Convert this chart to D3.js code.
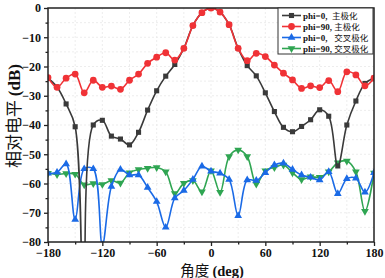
<!DOCTYPE html>
<html><head><meta charset="utf-8">
<script src="https://cdn.jsdelivr.net/npm/d3@7"></script>
<style>body{margin:0;background:#fff}svg{display:block}</style>
</head><body><svg id="c" width="385" height="278"></svg>
<script>
const angles = [-180,-170,-160,-150,-140,-130,-120,-110,-100,-90,-80,-70,-60,-50,-40,-30,-20,-10,0,10,20,30,40,50,60,70,80,90,100,110,120,130,140,150,160,170,180];
const phi0Co = [-24,-27,-32.8,-40.6,-130,-40,-38.4,-43.8,-44.8,-46.8,-42.5,-34.9,-28.3,-23.3,-19.3,-13.8,-6,-1.6,0,-1.4,-5.7,-13.8,-19.7,-23.2,-29,-35.4,-40.8,-42.3,-40.5,-38.2,-34.8,-37,-54,-40,-31.8,-25.8,-24];
const phi90Co = [-23.8,-27.1,-24,-22.6,-29,-24.7,-27.1,-26.7,-27.8,-24.7,-22.6,-18.9,-16.8,-15.3,-17.8,-13.8,-6,-1.6,0,-1.4,-5.7,-13.8,-18,-15.5,-16.6,-19.5,-22.3,-24.6,-27.5,-26.6,-27.2,-24.8,-28.6,-21.8,-22.9,-26.6,-24];
const phi0Cx = [-56.5,-56.2,-53.3,-72.3,-55,-55,-81,-61,-55.2,-57.1,-57.1,-61.4,-66.2,-75,-65,-62.4,-58.6,-54.1,-55.8,-56.5,-58.6,-71,-58.8,-59,-56.3,-53.7,-53.1,-55.2,-57.1,-57.9,-58.8,-56,-63.5,-58.4,-58.2,-63,-56.3];
const phi90Cx = [-56.5,-56.9,-56.6,-56.8,-60.4,-60,-60.3,-59,-59.8,-56.3,-55.2,-54.8,-54.5,-56,-63.4,-59.9,-59,-62.8,-55.6,-63,-50.8,-48.5,-50.8,-60.2,-55.6,-54.5,-53.7,-56.3,-58.6,-57.7,-57.9,-56,-52.9,-52.3,-56,-69.5,-56.4];
const xTicks = [-180,-120,-60,0,60,120,180];
const yTicks = [0,-10,-20,-30,-40,-50,-60,-70,-80];
const seriesLatin = ["phi=0,  ","phi=90, ","phi=0,   ","phi=90, "];
const seriesCjk = ["主极化","主极化","交叉极化","交叉极化"];
const colors = ["#3a3a3a","#f03236","#1a6ae6","#2fa552"];
const symbols = [d3.symbolSquare, d3.symbolCircle, d3.symbolTriangle, d3.symbolTriangle];
const symSizes = [26, 36, 26, 26];
const rotations = [0,0,0,180];
const allSeries = [phi0Co, phi90Co, phi0Cx, phi90Cx];

const svg = d3.select("#c");
const L=48, R=374, T=8, B=242;
const x = d3.scaleLinear().domain([-180,180]).range([L,R]);
const y = d3.scaleLinear().domain([-80,0]).range([B,T]);
const serif = "'Liberation Serif','Times New Roman',serif";

// grid
const g = svg.append("g");
g.selectAll("line.gx").data(d3.range(-150,180,30)).join("line")
  .attr("x1",d=>x(d)).attr("x2",d=>x(d)).attr("y1",T).attr("y2",B)
  .attr("stroke","#e8e8e8").attr("stroke-width",0.8).attr("stroke-dasharray","2,2");
g.selectAll("line.gy").data(d3.range(-75,0,5)).join("line")
  .attr("y1",d=>y(d)).attr("y2",d=>y(d)).attr("x1",L).attr("x2",R)
  .attr("stroke","#e8e8e8").attr("stroke-width",0.8).attr("stroke-dasharray","2,2");

svg.append("defs").append("clipPath").attr("id","clip")
  .append("rect").attr("x",L).attr("y",T).attr("width",R-L).attr("height",B-T);

const line = d3.line().x((d,i)=>x(angles[i])).y(d=>y(d)).curve(d3.curveCatmullRom.alpha(0.5));
const plot = svg.append("g").attr("clip-path","url(#clip)");
const order = [3,2,0,1];
order.forEach(k=>{
  const s = allSeries[k];
  plot.append("path").attr("d",line(s)).attr("fill","none").attr("stroke",colors[k]).attr("stroke-width",1.6);
  plot.selectAll(null).data(s).join("path")
    .attr("d",d3.symbol().type(symbols[k]).size(symSizes[k]))
    .attr("transform",(d,i)=>`translate(${x(angles[i])},${y(d)}) rotate(${rotations[k]})`)
    .attr("fill",colors[k]);
});

// axes
svg.append("g").attr("transform",`translate(0,${B})`)
  .call(d3.axisBottom(x).tickValues(xTicks).tickSize(4).tickPadding(2).tickFormat(d3.format("d")));
svg.append("g").attr("transform",`translate(0,${B})`)
  .call(d3.axisBottom(x).tickValues(d3.range(-150,180,60)).tickSize(2.5).tickFormat(""));
svg.append("g").attr("transform",`translate(${L},0)`)
  .call(d3.axisLeft(y).tickValues(yTicks).tickSize(4).tickPadding(3).tickFormat(d3.format("d")));
svg.append("g").attr("transform",`translate(${L},0)`)
  .call(d3.axisLeft(y).tickValues(d3.range(-75,0,10)).tickSize(2.5).tickFormat(""));
svg.selectAll(".domain").remove();
svg.selectAll(".tick line").attr("stroke","#222").attr("stroke-width",1.3);
svg.selectAll(".tick text").attr("font-family",serif).attr("font-weight","bold").attr("font-size",12).attr("fill","#111");

svg.append("rect").attr("x",L).attr("y",T).attr("width",R-L).attr("height",B-T)
  .attr("fill","none").attr("stroke","#222").attr("stroke-width",1.5);

// axis labels
const xl = svg.append("text").attr("x",212).attr("y",275.5).attr("text-anchor","middle")
  .attr("font-size",14.5).attr("font-weight","bold").attr("fill","#111");
xl.append("tspan").attr("font-family","'Noto Sans CJK SC'").attr("font-weight","normal").text("角度 ");
xl.append("tspan").attr("font-family",serif).text("(deg)");
const yl = svg.append("text").attr("transform","translate(20,116) rotate(-90)").attr("text-anchor","middle")
  .attr("font-size",17).attr("font-weight","bold").attr("fill","#111");
yl.append("tspan").attr("font-family","'Noto Sans CJK SC'").attr("font-weight","normal").text("相对电平 ");
yl.append("tspan").attr("font-family",serif).text("(dB)");

// legend
const lg = svg.append("g");
lg.append("rect").attr("x",278).attr("y",8).attr("width",95).attr("height",46)
  .attr("fill","#fff").attr("stroke","#333").attr("stroke-width",1);
[0,1,2,3].forEach(k=>{
  const yy = 15.5 + k*11;
  lg.append("line").attr("x1",282).attr("x2",301).attr("y1",yy).attr("y2",yy).attr("stroke",colors[k]).attr("stroke-width",1.6);
  lg.append("path").attr("d",d3.symbol().type(symbols[k]).size(symSizes[k]))
    .attr("transform",`translate(291.5,${yy}) rotate(${rotations[k]})`).attr("fill",colors[k]);
  const t = lg.append("text").attr("x",303).attr("y",yy+3.2).attr("font-size",9).attr("fill","#111").attr("xml:space","preserve");
  t.append("tspan").attr("font-family",serif).attr("font-weight","bold").text(seriesLatin[k]);
  t.append("tspan").attr("font-family","'Noto Sans CJK SC'").attr("font-size",8.5).text(seriesCjk[k]);
});
</script></body></html>
